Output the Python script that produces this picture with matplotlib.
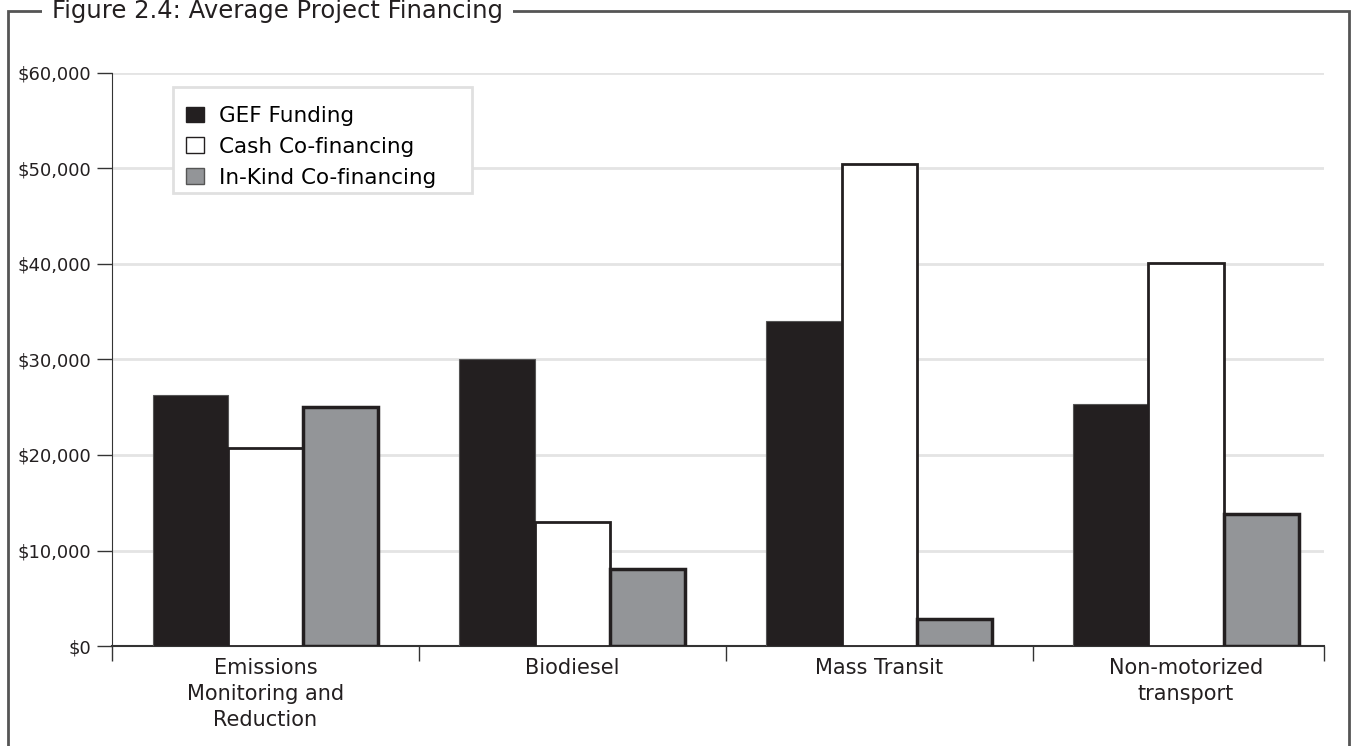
import matplotlib.pyplot as plt
from matplotlib.patches import Rectangle, Patch
import numpy as np

plt.rcParams['font.family'] = ['DejaVu Sans']

categories = ["Emissions\nMonitoring and\nReduction", "Biodiesel", "Mass Transit", "Non-motorized\ntransport"]
gef_funding = [26300, 30100, 34000, 25300]
cash_cofinancing = [20700, 13000, 50500, 40100]
inkind_cofinancing = [25000, 8100, 2800, 13800]
series_names = ["GEF Funding", "Cash Co-financing", "In-Kind Co-financing"]
yticks = [0, 10000, 20000, 30000, 40000, 50000, 60000]

W, H = 1351, 746
fig = plt.figure(figsize=(W/100, H/100), dpi=100)
ax = fig.add_axes([112/W, 1-646/H, (1324-112)/W, (646-73)/H])

x = np.arange(len(categories))
w = 0.245
ax.bar(x - w, gef_funding, w, color="#231f20", edgecolor="#555555", linewidth=0.8, zorder=3)
ax.bar(x, cash_cofinancing, w, color="white", edgecolor="#231f20", linewidth=2, zorder=3)
ax.bar(x + w, inkind_cofinancing, w, color="#939598", edgecolor="#231f20", linewidth=2.5, zorder=3)

ax.set_xlim(-0.5, 3.45)
ax.set_ylim(0, 60000)
ax.set_yticks(yticks)
ax.set_yticklabels([f"${v:,}" for v in yticks], fontsize=13, color="#231f20")
ax.yaxis.grid(True, color="#e4e4e4", linewidth=2, zorder=0)
ax.tick_params(axis="y", length=11, width=1, color="#333333", pad=4)

ax.set_xticks(x)
ax.set_xticklabels(categories, fontsize=15, color="#231f20", linespacing=1.35)
ax.tick_params(axis="x", which="major", length=0, pad=9)
ax.set_xticks([-0.5, 0.5, 1.5, 2.5, 3.45], minor=True)
ax.tick_params(axis="x", which="minor", length=11, width=1, color="#333333", direction="out")

for s in ["top", "right"]:
    ax.spines[s].set_visible(False)
ax.spines["left"].set_color("#333333")
ax.spines["bottom"].set_color("#333333")
ax.spines["bottom"].set_linewidth(1.5)

# legend box drawn separately so it can be wider than the entries
legend_box = Rectangle((173/W, 1-193/H), (472-173)/W, (193-87)/H, transform=fig.transFigure,
                       facecolor="white", edgecolor="#e0e0e0", linewidth=2, zorder=4)
fig.patches.append(legend_box)

handles = [Patch(facecolor="#231f20", edgecolor="#231f20"),
           Patch(facecolor="white", edgecolor="#231f20"),
           Patch(facecolor="#939598", edgecolor="#555555")]
leg = fig.legend(handles, series_names, loc="upper left", bbox_to_anchor=(186/W, 1-106/H),
                 fontsize=15.5, frameon=False, handlelength=0.85, handleheight=0.75,
                 handletextpad=0.7, borderpad=0, labelspacing=0.5, borderaxespad=0)
leg.set_zorder(5)

# frame around the figure
frame = Rectangle((8/W, -0.1), (1349-8)/W, 1.1 - 11/H, transform=fig.transFigure,
                  fill=False, edgecolor="#555555", linewidth=2)
fig.patches.append(frame)
fig.text(52/W, 1-11/H, "Figure 2.4: Average Project Financing", fontsize=17.5, color="#231f20",
         ha="left", va="center", bbox=dict(facecolor="white", edgecolor="none", pad=7))

fig.savefig("out.png", dpi=100)
